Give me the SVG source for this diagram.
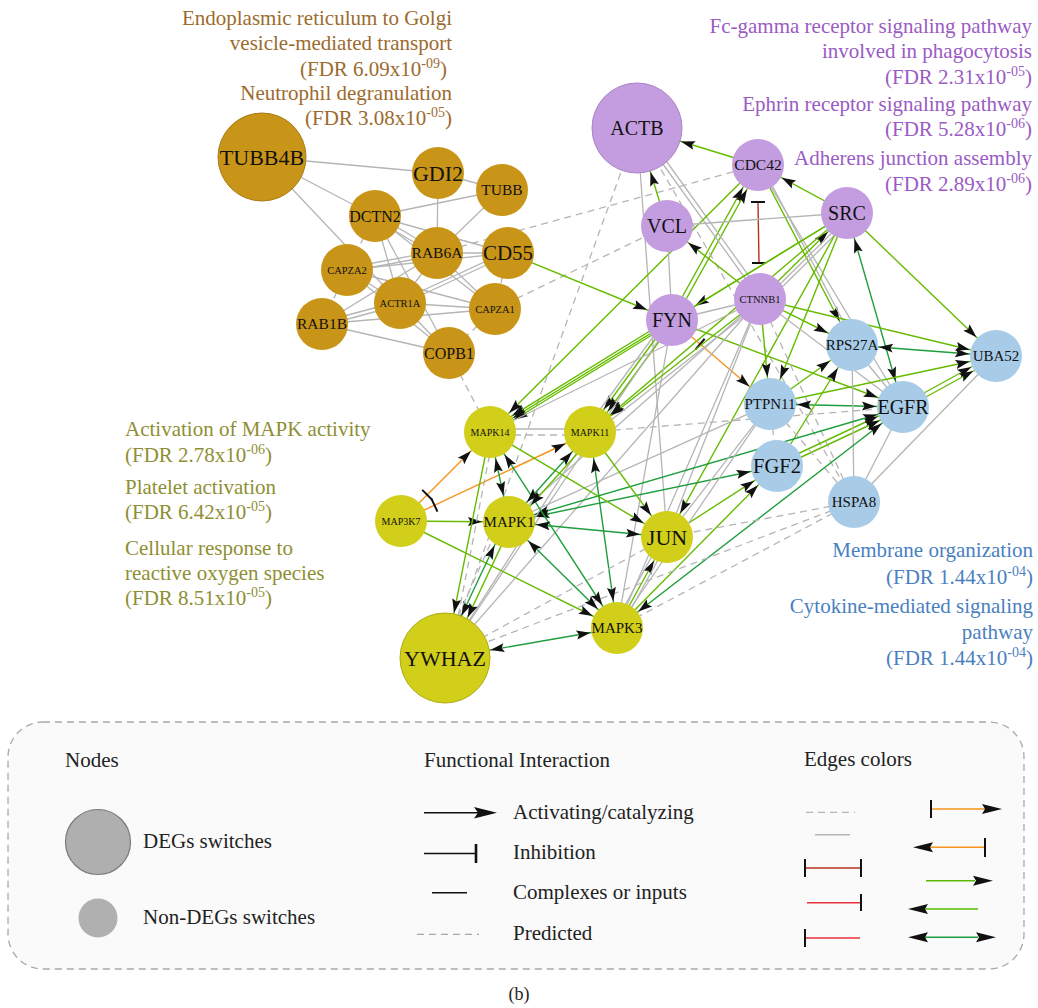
<svg xmlns="http://www.w3.org/2000/svg" width="1038" height="1008" viewBox="0 0 1038 1008">
<defs>
<style>
text{font-family:"Liberation Serif","Times New Roman",serif}
.g{stroke:#B5B5B5;stroke-width:1.3;fill:none}
.d{stroke:#B5B5B5;stroke-width:1.3;stroke-dasharray:7 5;fill:none}
.a{stroke:#66BB00;stroke-width:1.4;fill:none}
.b{stroke:#1E9E3C;stroke-width:1.4;fill:none}
.o{stroke:#F7941D;stroke-width:1.4;fill:none}
.n text{text-anchor:middle;fill:#111}
.br{fill:#C99518}
.pu{fill:#C49DE0}
.bl{fill:#A8CCE8}
.ye{fill:#D2CF1A}
.hd{font-size:21px}
.sp{font-size:14px}
.lg{font-size:21px;fill:#222}
</style>
<marker id="a" markerUnits="userSpaceOnUse" orient="auto-start-reverse" refX="41" refY="0" markerWidth="16" markerHeight="10" overflow="visible"><path d="M0,-4.5L14,0L0,4.5L2.5,0z" fill="#111"/></marker>
<marker id="A" markerUnits="userSpaceOnUse" orient="auto-start-reverse" refX="60" refY="0" markerWidth="16" markerHeight="10" overflow="visible"><path d="M0,-4.5L14,0L0,4.5L2.5,0z" fill="#111"/></marker>
<marker id="t" markerUnits="userSpaceOnUse" orient="auto-start-reverse" refX="37" refY="0" markerWidth="4" markerHeight="16" overflow="visible"><path d="M0,-7V7" stroke="#111" stroke-width="2"/></marker>
</defs>

<g id="edges">
<line class="g" x1="262" y1="157" x2="438" y2="173"/>
<line class="g" x1="262" y1="157" x2="375" y2="216"/>
<line class="g" x1="262" y1="157" x2="400" y2="303"/>
<line class="g" x1="438" y1="173" x2="502" y2="190"/>
<line class="g" x1="438" y1="173" x2="437" y2="253"/>
<line class="g" x1="375" y1="216" x2="502" y2="190"/>
<line class="g" x1="375" y1="214" x2="437" y2="251"/>
<line class="g" x1="375" y1="219" x2="437" y2="256"/>
<line class="g" x1="375" y1="216" x2="508" y2="253"/>
<line class="g" x1="375" y1="216" x2="495" y2="309"/>
<line class="g" x1="375" y1="216" x2="400" y2="303"/>
<line class="g" x1="375" y1="216" x2="449" y2="353"/>
<line class="g" x1="502" y1="190" x2="437" y2="253"/>
<line class="g" x1="437" y1="251" x2="347" y2="268"/>
<line class="g" x1="437" y1="255" x2="347" y2="272"/>
<line class="g" x1="437" y1="253" x2="508" y2="253"/>
<line class="g" x1="437" y1="253" x2="400" y2="303"/>
<line class="g" x1="437" y1="253" x2="495" y2="309"/>
<line class="g" x1="437" y1="253" x2="322" y2="324"/>
<line class="g" x1="347" y1="270" x2="508" y2="253"/>
<line class="g" x1="347" y1="270" x2="400" y2="303"/>
<line class="g" x1="347" y1="270" x2="495" y2="309"/>
<line class="g" x1="347" y1="270" x2="449" y2="353"/>
<line class="d" x1="347" y1="270" x2="322" y2="324"/>
<line class="g" x1="400" y1="301" x2="508" y2="251"/>
<line class="g" x1="400" y1="305" x2="508" y2="255"/>
<line class="g" x1="400" y1="303" x2="495" y2="309"/>
<line class="g" x1="400" y1="301" x2="322" y2="322"/>
<line class="g" x1="400" y1="305" x2="322" y2="326"/>
<line class="g" x1="400" y1="303" x2="449" y2="353"/>
<line class="g" x1="322" y1="324" x2="495" y2="309"/>
<line class="g" x1="322" y1="324" x2="449" y2="353"/>
<line class="d" x1="495" y1="309" x2="449" y2="353"/>
<line class="d" x1="508" y1="253" x2="495" y2="309"/>
<line class="d" x1="375" y1="216" x2="347" y2="270"/>
<line class="d" x1="449" y1="353" x2="490" y2="432"/>
<line class="d" x1="437" y1="253" x2="758" y2="165"/>
<line class="d" x1="495" y1="309" x2="667" y2="226"/>
<line class="a" x1="508" y1="253" x2="672" y2="320" marker-end="url(#a)"/>
<line class="a" x1="758" y1="165" x2="637" y2="128" marker-end="url(#A)"/>
<line class="a" x1="667" y1="226" x2="637" y2="128" marker-end="url(#A)"/>
<line class="a" x1="847" y1="213" x2="758" y2="165" marker-end="url(#a)"/>
<line class="a" x1="670" y1="319" x2="756" y2="164" marker-end="url(#a)"/>
<line class="a" x1="674" y1="321" x2="760" y2="166" marker-end="url(#a)"/>
<line x1="758" y1="202" x2="759" y2="263" stroke="#B5301E" stroke-width="1.4"/>
<path d="M751,202H765M752,263H766" stroke="#111" stroke-width="2"/>
<line class="g" x1="637" y1="128" x2="667" y2="537"/>
<line class="g" x1="637" y1="128" x2="760" y2="299"/>
<line class="g" x1="641" y1="126" x2="764" y2="297"/>
<line class="d" x1="637" y1="128" x2="854" y2="502"/>
<line class="d" x1="637" y1="128" x2="445" y2="658"/>
<line class="a" x1="758" y1="165" x2="490" y2="432" marker-end="url(#a)"/>
<line class="a" x1="758" y1="165" x2="852" y2="345" marker-end="url(#a)"/>
<line class="g" x1="761" y1="164" x2="855" y2="344"/>
<line class="g" x1="758" y1="165" x2="903" y2="407"/>
<line class="g" x1="847" y1="213" x2="667" y2="226"/>
<line class="g" x1="667" y1="226" x2="672" y2="320"/>
<line class="a" x1="760" y1="299" x2="667" y2="226" marker-end="url(#a)"/>
<line class="a" x1="847" y1="213" x2="672" y2="320" marker-end="url(#a)"/>
<line class="a" x1="847" y1="213" x2="490" y2="432" marker-end="url(#a)"/>
<line class="a" x1="760" y1="299" x2="847" y2="213" marker-end="url(#a)"/>
<line class="g" x1="762" y1="302" x2="849" y2="216"/>
<line class="g" x1="765" y1="304" x2="852" y2="218"/>
<line class="a" x1="847" y1="213" x2="590" y2="432" marker-end="url(#a)"/>
<line class="a" x1="847" y1="213" x2="770" y2="404" marker-end="url(#a)"/>
<line class="a" x1="847" y1="213" x2="667" y2="537" marker-end="url(#a)"/>
<line class="a" x1="847" y1="213" x2="996" y2="356" marker-end="url(#a)"/>
<line class="b" x1="847" y1="213" x2="903" y2="407" marker-start="url(#a)" marker-end="url(#a)"/>
<line class="a" x1="671" y1="318" x2="489" y2="430" marker-end="url(#a)"/>
<line class="a" x1="673" y1="322" x2="491" y2="434" marker-end="url(#a)"/>
<line class="a" x1="670" y1="319" x2="588" y2="431" marker-end="url(#a)"/>
<line class="a" x1="674" y1="321" x2="592" y2="433" marker-end="url(#a)"/>
<line class="g" x1="667" y1="318" x2="585" y2="430"/>
<line class="g" x1="672" y1="320" x2="760" y2="299"/>
<line class="a" x1="672" y1="320" x2="903" y2="407" marker-end="url(#a)"/>
<line class="o" x1="672" y1="320" x2="770" y2="404" marker-start="url(#t)" marker-end="url(#a)"/>
<line class="g" x1="672" y1="320" x2="445" y2="658"/>
<line class="g" x1="672" y1="320" x2="617" y2="628"/>
<line class="a" x1="760" y1="299" x2="590" y2="432" marker-end="url(#a)"/>
<line class="g" x1="760" y1="299" x2="490" y2="432"/>
<line class="g" x1="762" y1="302" x2="592" y2="435"/>
<line class="g" x1="760" y1="299" x2="509" y2="522"/>
<line class="g" x1="760" y1="299" x2="445" y2="658"/>
<line class="g" x1="760" y1="299" x2="617" y2="628"/>
<line class="g" x1="760" y1="299" x2="667" y2="537"/>
<line class="a" x1="760" y1="299" x2="770" y2="404" marker-end="url(#a)"/>
<line class="a" x1="760" y1="299" x2="852" y2="345" marker-end="url(#a)"/>
<line class="a" x1="760" y1="299" x2="996" y2="356" marker-end="url(#a)"/>
<line class="g" x1="760" y1="299" x2="903" y2="407"/>
<line class="d" x1="760" y1="299" x2="854" y2="502"/>
<line class="b" x1="852" y1="345" x2="996" y2="356" marker-start="url(#a)" marker-end="url(#a)"/>
<line class="a" x1="770" y1="404" x2="996" y2="356" marker-end="url(#a)"/>
<line class="a" x1="902" y1="405" x2="995" y2="354" marker-end="url(#a)"/>
<line class="a" x1="904" y1="409" x2="997" y2="358" marker-end="url(#a)"/>
<line class="g" x1="854" y1="502" x2="996" y2="356"/>
<line class="b" x1="770" y1="404" x2="903" y2="407" marker-start="url(#a)" marker-end="url(#a)"/>
<line class="a" x1="770" y1="404" x2="852" y2="345" marker-end="url(#a)"/>
<line class="a" x1="777" y1="466" x2="852" y2="345" marker-end="url(#a)"/>
<line class="a" x1="776" y1="464" x2="902" y2="405" marker-end="url(#a)"/>
<line class="a" x1="778" y1="468" x2="904" y2="409" marker-end="url(#a)"/>
<line class="g" x1="852" y1="345" x2="854" y2="502"/>
<line class="g" x1="852" y1="345" x2="903" y2="407"/>
<line class="g" x1="903" y1="407" x2="854" y2="502"/>
<line class="d" x1="770" y1="404" x2="854" y2="502"/>
<line class="d" x1="770" y1="404" x2="777" y2="466"/>
<line class="d" x1="590" y1="432" x2="903" y2="407"/>
<line class="b" x1="509" y1="522" x2="903" y2="407" marker-start="url(#a)" marker-end="url(#a)"/>
<line class="b" x1="509" y1="522" x2="777" y2="466" marker-start="url(#a)" marker-end="url(#a)"/>
<line class="b" x1="617" y1="628" x2="903" y2="407" marker-start="url(#a)" marker-end="url(#a)"/>
<line class="a" x1="667" y1="537" x2="777" y2="466" marker-end="url(#a)"/>
<line class="a" x1="617" y1="628" x2="777" y2="466" marker-end="url(#a)"/>
<line class="d" x1="854" y1="502" x2="667" y2="537"/>
<line class="d" x1="854" y1="502" x2="445" y2="658"/>
<line class="d" x1="854" y1="502" x2="617" y2="628"/>
<line class="g" x1="770" y1="404" x2="667" y2="537"/>
<line class="g" x1="770" y1="404" x2="617" y2="628"/>
<line class="g" x1="509" y1="522" x2="770" y2="404"/>
<line class="g" x1="445" y1="658" x2="590" y2="432"/>
<line class="o" x1="401" y1="521" x2="490" y2="432" marker-start="url(#t)" marker-end="url(#a)"/>
<line class="o" x1="401" y1="521" x2="590" y2="432" marker-start="url(#t)" marker-end="url(#a)"/>
<line class="a" x1="401" y1="521" x2="509" y2="522" marker-end="url(#a)"/>
<line class="a" x1="401" y1="521" x2="617" y2="628" marker-end="url(#a)"/>
<line class="a" x1="490" y1="432" x2="445" y2="658" marker-end="url(#A)"/>
<line class="d" x1="494" y1="432" x2="450" y2="658"/>
<line class="a" x1="490" y1="432" x2="667" y2="537" marker-end="url(#a)"/>
<line class="b" x1="490" y1="432" x2="509" y2="522" marker-start="url(#a)" marker-end="url(#a)"/>
<line class="b" x1="490" y1="432" x2="617" y2="628" marker-start="url(#a)" marker-end="url(#a)"/>
<line class="g" x1="490" y1="429" x2="590" y2="429"/>
<line class="d" x1="490" y1="435" x2="590" y2="435"/>
<line class="b" x1="590" y1="432" x2="509" y2="522" marker-start="url(#a)" marker-end="url(#a)"/>
<line class="a" x1="594" y1="435" x2="513" y2="525" marker-end="url(#a)"/>
<line class="a" x1="590" y1="432" x2="667" y2="537" marker-end="url(#a)"/>
<line class="b" x1="590" y1="432" x2="617" y2="628" marker-start="url(#a)" marker-end="url(#a)"/>
<line class="b" x1="509" y1="522" x2="667" y2="537" marker-start="url(#a)" marker-end="url(#a)"/>
<line class="b" x1="509" y1="522" x2="617" y2="628" marker-start="url(#a)" marker-end="url(#a)"/>
<line class="b" x1="506" y1="521" x2="442" y2="657" marker-start="url(#a)" marker-end="url(#A)"/>
<line class="a" x1="512" y1="523" x2="448" y2="659" marker-end="url(#A)"/>
<line class="d" x1="500" y1="522" x2="440" y2="657"/>
<line class="b" x1="617" y1="628" x2="445" y2="658" marker-start="url(#a)" marker-end="url(#A)"/>
<line class="a" x1="617" y1="628" x2="667" y2="537" marker-end="url(#a)"/>
<line class="g" x1="620" y1="629" x2="670" y2="538"/>
<line class="g" x1="613" y1="627" x2="663" y2="536"/>
<line class="d" x1="667" y1="537" x2="445" y2="658"/>
</g>

<g class="n" id="n-TUBB4B"><circle class="br" cx="262" cy="157" r="44" stroke="#A87A14" stroke-width="1"/><text x="262" y="157" dy="0.35em" font-size="22">TUBB4B</text></g>
<g class="n" id="n-GDI2"><circle class="br" cx="438" cy="173" r="26"/><text x="438" y="173" dy="0.35em" font-size="22">GDI2</text></g>
<g class="n" id="n-TUBB"><circle class="br" cx="502" cy="190" r="26"/><text x="502" y="190" dy="0.35em" font-size="15.5">TUBB</text></g>
<g class="n" id="n-DCTN2"><circle class="br" cx="375" cy="216" r="26"/><text x="375" y="216" dy="0.35em" font-size="16">DCTN2</text></g>
<g class="n" id="n-RAB6A"><circle class="br" cx="437" cy="253" r="26"/><text x="437" y="253" dy="0.35em" font-size="15.5">RAB6A</text></g>
<g class="n" id="n-CD55"><circle class="br" cx="508" cy="253" r="26"/><text x="508" y="253" dy="0.35em" font-size="21">CD55</text></g>
<g class="n" id="n-CAPZA2"><circle class="br" cx="347" cy="270" r="26"/><text x="347" y="270" dy="0.35em" font-size="10.5">CAPZA2</text></g>
<g class="n" id="n-ACTR1A"><circle class="br" cx="400" cy="303" r="26"/><text x="400" y="303" dy="0.35em" font-size="10.5">ACTR1A</text></g>
<g class="n" id="n-CAPZA1"><circle class="br" cx="495" cy="309" r="26"/><text x="495" y="309" dy="0.35em" font-size="10.5">CAPZA1</text></g>
<g class="n" id="n-RAB1B"><circle class="br" cx="322" cy="324" r="26"/><text x="322" y="324" dy="0.35em" font-size="15.5">RAB1B</text></g>
<g class="n" id="n-COPB1"><circle class="br" cx="449" cy="353" r="26"/><text x="449" y="353" dy="0.35em" font-size="16">COPB1</text></g>

<g class="n" id="n-ACTB"><circle class="pu" cx="637" cy="128" r="45" stroke="#A984C8" stroke-width="1"/><text x="637" y="128" dy="0.35em" font-size="20">ACTB</text></g>
<g class="n" id="n-CDC42"><circle class="pu" cx="758" cy="165" r="26"/><text x="758" y="165" dy="0.35em" font-size="15.5">CDC42</text></g>
<g class="n" id="n-SRC"><circle class="pu" cx="847" cy="213" r="26"/><text x="847" y="213" dy="0.35em" font-size="20">SRC</text></g>
<g class="n" id="n-VCL"><circle class="pu" cx="667" cy="226" r="26"/><text x="667" y="226" dy="0.35em" font-size="20">VCL</text></g>
<g class="n" id="n-FYN"><circle class="pu" cx="672" cy="320" r="26"/><text x="672" y="320" dy="0.35em" font-size="20">FYN</text></g>
<g class="n" id="n-CTNNB1"><circle class="pu" cx="760" cy="299" r="26"/><text x="760" y="299" dy="0.35em" font-size="10.5">CTNNB1</text></g>

<g class="n" id="n-RPS27A"><circle class="bl" cx="852" cy="345" r="26"/><text x="852" y="345" dy="0.35em" font-size="15">RPS27A</text></g>
<g class="n" id="n-UBA52"><circle class="bl" cx="996" cy="356" r="26"/><text x="996" y="356" dy="0.35em" font-size="15">UBA52</text></g>
<g class="n" id="n-PTPN11"><circle class="bl" cx="770" cy="404" r="26"/><text x="770" y="404" dy="0.35em" font-size="15">PTPN11</text></g>
<g class="n" id="n-EGFR"><circle class="bl" cx="903" cy="407" r="26"/><text x="903" y="407" dy="0.35em" font-size="20">EGFR</text></g>
<g class="n" id="n-FGF2"><circle class="bl" cx="777" cy="466" r="26"/><text x="777" y="466" dy="0.35em" font-size="20.5">FGF2</text></g>
<g class="n" id="n-HSPA8"><circle class="bl" cx="854" cy="502" r="26"/><text x="854" y="502" dy="0.35em" font-size="15">HSPA8</text></g>

<g class="n" id="n-MAPK14"><circle class="ye" cx="490" cy="432" r="26"/><text x="490" y="432" dy="0.35em" font-size="10">MAPK14</text></g>
<g class="n" id="n-MAPK11"><circle class="ye" cx="590" cy="432" r="26"/><text x="590" y="432" dy="0.35em" font-size="10">MAPK11</text></g>
<g class="n" id="n-MAP3K7"><circle class="ye" cx="401" cy="521" r="26"/><text x="401" y="521" dy="0.35em" font-size="10">MAP3K7</text></g>
<g class="n" id="n-MAPK1"><circle class="ye" cx="509" cy="522" r="26"/><text x="509" y="522" dy="0.35em" font-size="15">MAPK1</text></g>
<g class="n" id="n-JUN"><circle class="ye" cx="667" cy="537" r="26"/><text x="667" y="537" dy="0.35em" font-size="22">JUN</text></g>
<g class="n" id="n-MAPK3"><circle class="ye" cx="617" cy="628" r="26"/><text x="617" y="628" dy="0.35em" font-size="15">MAPK3</text></g>
<g class="n" id="n-YWHAZ"><circle class="ye" cx="445" cy="658" r="45" stroke="#AEAB14" stroke-width="1"/><text x="445" y="658" dy="0.35em" font-size="22">YWHAZ</text></g>

<g id="labels-brown" class="hd" fill="#9C6B2E" text-anchor="end">
<text x="452" y="25">Endoplasmic reticulum to Golgi</text>
<text x="452" y="50">vesicle-mediated transport</text>
<text x="447" y="76">(FDR 6.09x10<tspan class="sp" dy="-8">-09</tspan><tspan dy="8">)</tspan></text>
<text x="452" y="100">Neutrophil degranulation</text>
<text x="452" y="125">(FDR 3.08x10<tspan class="sp" dy="-8">-05</tspan><tspan dy="8">)</tspan></text>
</g>
<g id="labels-purple" class="hd" fill="#9A5BC4" text-anchor="end">
<text x="1032" y="33">Fc-gamma receptor signaling pathway</text>
<text x="1032" y="58">involved in phagocytosis</text>
<text x="1032" y="84">(FDR 2.31x10<tspan class="sp" dy="-8">-05</tspan><tspan dy="8">)</tspan></text>
<text x="1032" y="111">Ephrin receptor signaling pathway</text>
<text x="1032" y="136">(FDR 5.28x10<tspan class="sp" dy="-8">-06</tspan><tspan dy="8">)</tspan></text>
<text x="1032" y="165">Adherens junction assembly</text>
<text x="1032" y="191">(FDR 2.89x10<tspan class="sp" dy="-8">-06</tspan><tspan dy="8">)</tspan></text>
</g>
<g id="labels-olive" class="hd" fill="#8E8F33">
<text x="125" y="436">Activation of MAPK activity</text>
<text x="125" y="462">(FDR 2.78x10<tspan class="sp" dy="-8">-06</tspan><tspan dy="8">)</tspan></text>
<text x="125" y="494">Platelet activation</text>
<text x="125" y="519">(FDR 6.42x10<tspan class="sp" dy="-8">-05</tspan><tspan dy="8">)</tspan></text>
<text x="125" y="555">Cellular response to</text>
<text x="125" y="580">reactive oxygen species</text>
<text x="125" y="605">(FDR 8.51x10<tspan class="sp" dy="-8">-05</tspan><tspan dy="8">)</tspan></text>
</g>
<g id="labels-blue" class="hd" fill="#4A7FC0" text-anchor="end">
<text x="1033" y="557">Membrane organization</text>
<text x="1033" y="584">(FDR 1.44x10<tspan class="sp" dy="-8">-04</tspan><tspan dy="8">)</tspan></text>
<text x="1033" y="613">Cytokine-mediated signaling</text>
<text x="1033" y="639">pathway</text>
<text x="1033" y="665">(FDR 1.44x10<tspan class="sp" dy="-8">-04</tspan><tspan dy="8">)</tspan></text>
</g>

<g id="legend">
<rect x="8" y="722" width="1016" height="247" rx="35" fill="#FAFAFA" stroke="#A8A8A8" stroke-width="1.3" stroke-dasharray="7 5"/>
<text class="lg" x="65" y="767">Nodes</text>
<circle cx="98" cy="842" r="32.5" fill="#AFAFAF" stroke="#7A7A7A" stroke-width="1.2"/>
<text class="lg" x="143" y="848">DEGs switches</text>
<circle cx="98" cy="918" r="19.5" fill="#B0B0B0"/>
<text class="lg" x="143" y="924">Non-DEGs switches</text>
<text class="lg" x="424" y="767">Functional Interaction</text>
<line x1="424" y1="812.7" x2="478" y2="812.7" stroke="#111" stroke-width="1.4"/>
<polygon points="474,807 497,812.7 474,818.4 478,812.7" fill="#111"/>
<text class="lg" x="513" y="819">Activating/catalyzing</text>
<line x1="424" y1="853.5" x2="476" y2="853.5" stroke="#111" stroke-width="1.4"/>
<line x1="476" y1="844" x2="476" y2="863" stroke="#111" stroke-width="2.6"/>
<text class="lg" x="513" y="859">Inhibition</text>
<line x1="432" y1="892.7" x2="467" y2="892.7" stroke="#111" stroke-width="1.4"/>
<text class="lg" x="513" y="899">Complexes or inputs</text>
<line x1="417" y1="934.3" x2="479" y2="934.3" stroke="#A8A8A8" stroke-width="1.3" stroke-dasharray="7 5"/>
<text class="lg" x="513" y="940">Predicted</text>
<text class="lg" x="804" y="766">Edges colors</text>
<line x1="806" y1="812.3" x2="855" y2="812.3" stroke="#B5B5B5" stroke-width="1.3" stroke-dasharray="7 5"/>
<line x1="815" y1="834.7" x2="850" y2="834.7" stroke="#B5B5B5" stroke-width="1.5"/>
<line x1="805" y1="868" x2="861" y2="868" stroke="#B5301E" stroke-width="1.5"/>
<path d="M805,859V877M861,859V877" stroke="#111" stroke-width="2"/>
<line x1="807" y1="902.7" x2="861" y2="902.7" stroke="#E8303A" stroke-width="1.5"/>
<path d="M861,894V911" stroke="#111" stroke-width="2"/>
<line x1="805" y1="938" x2="860" y2="938" stroke="#E8303A" stroke-width="1.5"/>
<path d="M805,929V947" stroke="#111" stroke-width="2"/>
<line x1="931" y1="809" x2="985" y2="809" stroke="#F7941D" stroke-width="1.5"/>
<path d="M931,800V818" stroke="#111" stroke-width="2"/>
<polygon points="982,804 1002,809 982,814 985,809" fill="#111"/>
<line x1="930" y1="847.3" x2="985" y2="847.3" stroke="#F7941D" stroke-width="1.5"/>
<polygon points="933,842.3 913,847.3 933,852.3 930,847.3" fill="#111"/>
<path d="M985,838V857" stroke="#111" stroke-width="2"/>
<line x1="926" y1="880.7" x2="975" y2="880.7" stroke="#5CB800" stroke-width="1.5"/>
<polygon points="973,875.7 993,880.7 973,885.7 976,880.7" fill="#111"/>
<line x1="925" y1="909" x2="978" y2="909" stroke="#80CC40" stroke-width="1.8"/>
<polygon points="928,904 908,909 928,914 925,909" fill="#111"/>
<line x1="925" y1="937.3" x2="978" y2="937.3" stroke="#1E9E3C" stroke-width="1.5"/>
<polygon points="928,932.3 908,937.3 928,942.3 925,937.3" fill="#111"/>
<polygon points="976,932.3 996,937.3 976,942.3 979,937.3" fill="#111"/>
</g>
<text x="519" y="1000" font-size="18" fill="#222" text-anchor="middle">(b)</text>
</svg>
